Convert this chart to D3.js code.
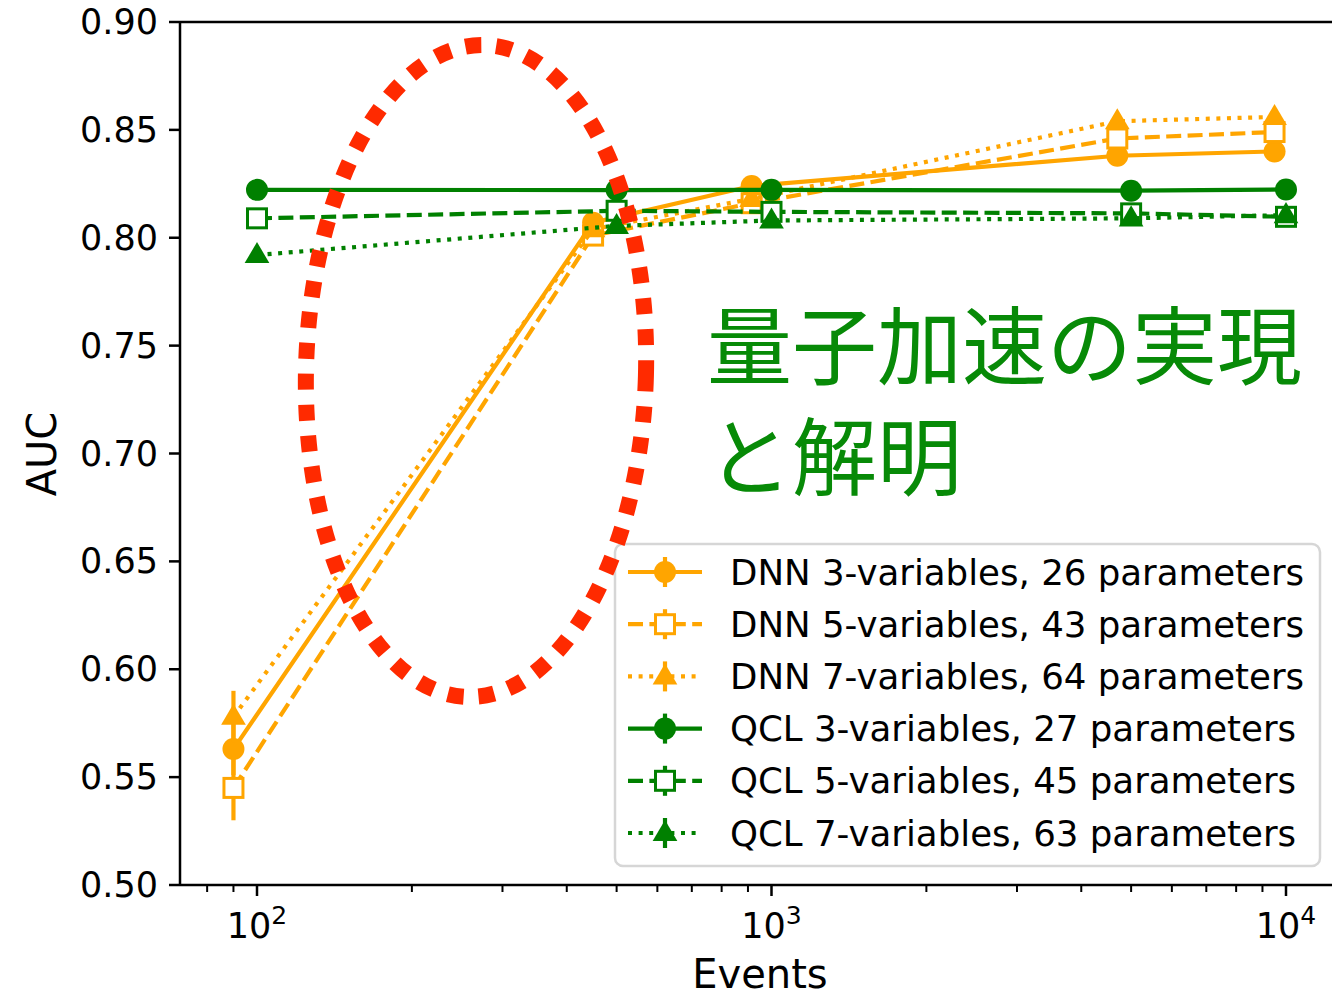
<!DOCTYPE html>
<html>
<head>
<meta charset="utf-8">
<script src="https://cdn.jsdelivr.net/npm/d3@7"></script>
<style>
  html, body { margin: 0; padding: 0; background: #fff; }
  svg { display: block; }
</style>
</head>
<body>
<svg id="chart" width="1332" height="1001"></svg>
<script>
// 数据
const qclEvents = [100, 500, 1000, 5000, 10000];
const dnnEvents = [90, 450, 915, 4700, 9500];

const dnn3 = [0.563, 0.807, 0.824, 0.838, 0.840];
const dnn5 = [0.545, 0.801, 0.816, 0.846, 0.849];
const dnn7 = [0.578, 0.804, 0.818, 0.854, 0.856];
const qcl3 = [0.8222, 0.8221, 0.8222, 0.8218, 0.8224];
const qcl5 = [0.809, 0.8125, 0.812, 0.8113, 0.8097];
const qcl7 = [0.792, 0.8055, 0.808, 0.809, 0.8105];

const dnn3Err = [0.012, 0.003, 0.002, 0.002, 0.002];
const dnn5Err = [0.015, 0.003, 0.002, 0.002, 0.002];
const dnn7Err = [0.012, 0.003, 0.002, 0.002, 0.002];
const qclErr = [0.002, 0.002, 0.002, 0.002, 0.002];

const yTicks = [0.50, 0.55, 0.60, 0.65, 0.70, 0.75, 0.80, 0.85, 0.90];
const xMajor = [100, 1000, 10000];
const xMinor = [80, 90, 200, 300, 400, 500, 600, 700, 800, 900,
  2000, 3000, 4000, 5000, 6000, 7000, 8000, 9000];

const labels = [
  'DNN 3-variables, 26 parameters',
  'DNN 5-variables, 43 parameters',
  'DNN 7-variables, 64 parameters',
  'QCL 3-variables, 27 parameters',
  'QCL 5-variables, 45 parameters',
  'QCL 7-variables, 63 parameters',
];
const noteLines = ['量子加速の実現', 'と解明'];

const ORANGE = '#ffa500';
const GREEN = '#008000';
const FONT = '"DejaVu Sans", sans-serif';

const series = [
  { x: dnnEvents, y: dnn3, err: dnn3Err, color: ORANGE, marker: 'circle', dash: null },
  { x: dnnEvents, y: dnn5, err: dnn5Err, color: ORANGE, marker: 'square', dash: '15,6.4' },
  { x: dnnEvents, y: dnn7, err: dnn7Err, color: ORANGE, marker: 'triangle', dash: '4,6.6' },
  { x: qclEvents, y: qcl3, err: qclErr, color: GREEN, marker: 'circle', dash: null },
  { x: qclEvents, y: qcl5, err: qclErr, color: GREEN, marker: 'square', dash: '15,6.4' },
  { x: qclEvents, y: qcl7, err: qclErr, color: GREEN, marker: 'triangle', dash: '4,6.6' },
].map((s, i) => ({ ...s, label: labels[i] }));

const svg = d3.select('#chart');
const mLeft = 180;
const mTop = 22;
const mBottom = 885;
const mRight = 1345;

const x = d3.scaleLog().domain([100, 10000]).range([257, 1286]);
const y = d3.scaleLinear().domain([0.5, 0.9]).range([mBottom, mTop]);

// 画标记
function drawMarker(g, type, cx, cy, color) {
  if (type === 'circle') {
    g.append('circle').attr('cx', cx).attr('cy', cy).attr('r', 11).attr('fill', color);
  } else if (type === 'square') {
    g.append('rect').attr('x', cx - 9.5).attr('y', cy - 9.5).attr('width', 19).attr('height', 19)
      .attr('fill', '#fff').attr('stroke', color).attr('stroke-width', 3);
  } else {
    const r = 13;
    g.append('path')
      .attr('d', `M${cx},${cy - r} L${cx + r * 0.95},${cy + r * 0.62} L${cx - r * 0.95},${cy + r * 0.62}Z`)
      .attr('fill', color);
  }
}

// 数据线
const plot = svg.append('g');
const line = d3.line().x(d => x(d[0])).y(d => y(d[1]));
series.forEach(s => {
  const g = plot.append('g');
  const pts = s.x.map((v, i) => [v, s.y[i], s.err[i]]);
  pts.forEach(p => {
    g.append('line')
      .attr('x1', x(p[0])).attr('x2', x(p[0]))
      .attr('y1', y(p[1] - p[2])).attr('y2', y(p[1] + p[2]))
      .attr('stroke', s.color).attr('stroke-width', 4.2);
  });
  g.append('path')
    .attr('d', line(pts))
    .attr('fill', 'none')
    .attr('stroke', s.color)
    .attr('stroke-width', 4.2)
    .attr('stroke-dasharray', s.dash);
  pts.forEach(p => drawMarker(g, s.marker, x(p[0]), y(p[1]), s.color));
});

// 坐标轴
const axes = svg.append('g').attr('stroke', '#000').attr('stroke-width', 2.5);
axes.append('line').attr('x1', mLeft).attr('x2', mLeft).attr('y1', mTop).attr('y2', mBottom);
axes.append('line').attr('x1', mLeft).attr('x2', mRight).attr('y1', mTop).attr('y2', mTop);
axes.append('line').attr('x1', mLeft).attr('x2', mRight).attr('y1', mBottom).attr('y2', mBottom);

yTicks.forEach(t => {
  axes.append('line').attr('x1', mLeft - 11).attr('x2', mLeft).attr('y1', y(t)).attr('y2', y(t));
  svg.append('text')
    .attr('x', mLeft - 22).attr('y', y(t))
    .attr('text-anchor', 'end').attr('dominant-baseline', 'central')
    .attr('font-family', FONT).attr('font-size', 35)
    .text(t.toFixed(2));
});

xMinor.forEach(t => {
  axes.append('line').attr('x1', x(t)).attr('x2', x(t)).attr('y1', mBottom).attr('y2', mBottom + 7)
    .attr('stroke-width', 2);
});
xMajor.forEach(t => {
  axes.append('line').attr('x1', x(t)).attr('x2', x(t)).attr('y1', mBottom).attr('y2', mBottom + 11);
  const txt = svg.append('text')
    .attr('x', x(t)).attr('y', 938)
    .attr('text-anchor', 'middle')
    .attr('font-family', FONT).attr('font-size', 35);
  txt.append('tspan').text('10');
  txt.append('tspan').attr('font-size', 25).attr('dy', -14).text(Math.round(Math.log10(t)));
});

svg.append('text')
  .attr('x', 760).attr('y', 988)
  .attr('text-anchor', 'middle')
  .attr('font-family', FONT).attr('font-size', 40)
  .text('Events');
svg.append('text')
  .attr('transform', 'translate(56,454) rotate(-90)')
  .attr('text-anchor', 'middle')
  .attr('font-family', FONT).attr('font-size', 40)
  .text('AUC');

// 图例
const legend = svg.append('g');
legend.append('rect')
  .attr('x', 615).attr('y', 544).attr('width', 705).attr('height', 322)
  .attr('rx', 8)
  .attr('fill', 'rgba(255,255,255,0.8)')
  .attr('stroke', '#d6d6d6').attr('stroke-width', 2.5);
series.forEach((s, i) => {
  const cy = 572 + i * 52.2;
  const g = legend.append('g');
  g.append('line').attr('x1', 628).attr('x2', 702).attr('y1', cy).attr('y2', cy)
    .attr('stroke', s.color).attr('stroke-width', 4.2).attr('stroke-dasharray', s.dash);
  g.append('line').attr('x1', 665).attr('x2', 665).attr('y1', cy - 15).attr('y2', cy + 15)
    .attr('stroke', s.color).attr('stroke-width', 4.2);
  drawMarker(g, s.marker, 665, cy, s.color);
  g.append('text')
    .attr('x', 730).attr('y', cy)
    .attr('dominant-baseline', 'central')
    .attr('font-family', FONT).attr('font-size', 35.6)
    .text(s.label);
});

// 注释文字
noteLines.forEach((t, i) => {
  svg.append('text')
    .attr('x', 707).attr('y', 378 + i * 111)
    .attr('font-family', '"Noto Sans CJK JP", sans-serif')
    .attr('font-size', 85)
    .attr('fill', '#078a07')
    .text(t);
});

// 红色虚线椭圆
svg.append('ellipse')
  .attr('cx', 476).attr('cy', 371).attr('rx', 170).attr('ry', 326)
  .attr('transform', 'rotate(1.5 476 371)')
  .attr('fill', 'none')
  .attr('stroke', '#ff2a00')
  .attr('stroke-width', 16)
  .attr('stroke-dasharray', '16,15');
</script>
</body>
</html>
